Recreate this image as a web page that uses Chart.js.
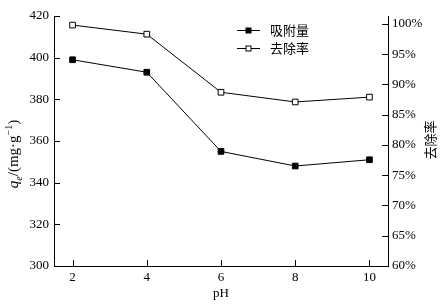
<!DOCTYPE html>
<html>
<head>
<meta charset="utf-8">
<script src="https://cdn.jsdelivr.net/npm/chart.js@4/dist/chart.umd.min.js"></script>
<style>
  html, body { margin: 0; padding: 0; background: #fff; }
</style>
</head>
<body>
<canvas id="chartContainer" width="444" height="308"></canvas>
<script>
var phValues = [2, 4, 6, 8, 10];
var adsorption = [399, 393, 355, 348, 351];
var removal = [99.8, 98.3, 88.7, 87.1, 87.9];
var leftTicks = [300, 320, 340, 360, 380, 400, 420];
var rightTicks = [60, 65, 70, 75, 80, 85, 90, 95, 100];
var seriesNames = ['吸附量', '去除率'];
var xTitle = 'pH';
var rightTitle = '去除率';

var serif = "'Liberation Serif', 'Times New Roman', serif";
var cjk = "'Noto Sans CJK SC', sans-serif";

function setTicks(list) {
  return function(scale) {
    scale.ticks = list.map(function(v) { return { value: v }; });
  };
}

// ticks point into the plot, so draw them by hand
var innerTicks = {
  id: 'innerTicks',
  afterDraw: function(chart) {
    var ctx = chart.ctx, a = chart.chartArea, len = 6;
    ctx.save();
    ctx.strokeStyle = '#000';
    ctx.lineWidth = 1;
    ctx.beginPath();
    chart.scales.x.ticks.forEach(function(t) {
      var px = Math.round(chart.scales.x.getPixelForValue(t.value)) + 0.5;
      ctx.moveTo(px, a.bottom); ctx.lineTo(px, a.bottom - len);
    });
    chart.scales.y.ticks.forEach(function(t) {
      var py = Math.round(chart.scales.y.getPixelForValue(t.value)) + 0.5;
      ctx.moveTo(a.left, py); ctx.lineTo(a.left + len, py);
    });
    chart.scales.y2.ticks.forEach(function(t) {
      var py = Math.round(chart.scales.y2.getPixelForValue(t.value)) + 0.5;
      ctx.moveTo(a.right, py); ctx.lineTo(a.right - len, py);
    });
    ctx.stroke();
    ctx.restore();
  }
};

// axis titles: left one has italic q, subscript e and superscript -1
var axisTitles = {
  id: 'axisTitles',
  afterDraw: function(chart) {
    var ctx = chart.ctx;
    var parts = [
      { t: 'q', f: 'italic 15px ' + serif, dy: 0 },
      { t: 'e', f: 'italic 10px ' + serif, dy: 4 },
      { t: '/(mg·g', f: '15px ' + serif, dy: 0 },
      { t: '−1', f: '10px ' + serif, dy: -6 },
      { t: ')', f: '15px ' + serif, dy: 0 }
    ];
    ctx.save();
    ctx.translate(18, 154);
    ctx.rotate(-Math.PI / 2);
    ctx.fillStyle = '#000';
    ctx.textBaseline = 'alphabetic';
    var total = 0;
    parts.forEach(function(p) { ctx.font = p.f; p.w = ctx.measureText(p.t).width; total += p.w; });
    var x = -total / 2;
    parts.forEach(function(p) {
      ctx.font = p.f;
      ctx.fillText(p.t, x, p.dy);
      x += p.w;
    });
    ctx.restore();

    ctx.save();
    ctx.translate(430, 140);
    ctx.rotate(-Math.PI / 2);
    ctx.fillStyle = '#000';
    ctx.font = '13px ' + cjk;
    ctx.textAlign = 'center';
    ctx.textBaseline = 'middle';
    ctx.fillText(rightTitle, 0, 0);
    ctx.restore();
  }
};

var lineLegend = {
  id: 'lineLegend',
  afterDraw: function(chart) {
    var ctx = chart.ctx;
    ctx.save();
    chart.data.datasets.forEach(function(ds, i) {
      var y = 30 + i * 18 + 0.5;
      ctx.strokeStyle = '#000';
      ctx.lineWidth = 1;
      ctx.beginPath();
      ctx.moveTo(237, y); ctx.lineTo(260, y);
      ctx.stroke();
      ctx.fillStyle = ds.pointBackgroundColor;
      ctx.fillRect(246, y - 2.5, 5, 5);
      ctx.strokeRect(246, y - 2.5, 5, 5);
      ctx.fillStyle = '#000';
      ctx.font = '13px ' + cjk;
      ctx.textBaseline = 'middle';
      ctx.fillText(ds.label, 270, y);
    });
    ctx.restore();
  }
};

const ctx = document.getElementById('chartContainer');

var chart = new Chart(ctx, {
  type: 'line',
  data: {
    datasets: [{
      label: seriesNames[0],
      data: phValues.map(function(x, i) { return { x: x, y: adsorption[i] }; }),
      yAxisID: 'y',
      borderColor: '#000',
      borderWidth: 1,
      pointStyle: 'rect',
      pointRadius: 4,
      pointBackgroundColor: '#000',
      pointBorderColor: '#000',
      pointBorderWidth: 1,
      tension: 0
    }, {
      label: seriesNames[1],
      data: phValues.map(function(x, i) { return { x: x, y: removal[i] }; }),
      yAxisID: 'y2',
      borderColor: '#000',
      borderWidth: 1,
      pointStyle: 'rect',
      pointRadius: 4,
      pointBackgroundColor: '#fff',
      pointBorderColor: '#000',
      pointBorderWidth: 1,
      tension: 0
    }]
  },
  options: {
    responsive: false,
    animation: false,
    layout: { padding: { top: 16, left: 0, right: 0, bottom: 0 } },
    plugins: {
      legend: { display: false },
      tooltip: { enabled: false }
    },
    scales: {
      x: {
        type: 'linear',
        min: 1.5,
        max: 10.5,
        afterBuildTicks: setTicks(phValues),
        afterFit: function(s) { s.height = 42; },
        grid: { display: false, drawTicks: false },
        border: { display: true, color: '#000', width: 1 },
        ticks: { color: '#000', padding: 4, font: { family: serif, size: 13 } },
        title: { display: true, text: xTitle, color: '#000', padding: { top: 0, bottom: 7 }, font: { family: serif, size: 13 } }
      },
      y: {
        position: 'left',
        min: 300,
        max: 420,
        afterBuildTicks: setTicks(leftTicks),
        afterFit: function(s) { s.width = 54; },
        grid: { display: false, drawTicks: false },
        border: { display: true, color: '#000', width: 1 },
        ticks: { color: '#000', padding: 5, font: { family: serif, size: 13 } }
      },
      y2: {
        position: 'right',
        min: 60,
        max: 101.3,
        afterBuildTicks: setTicks(rightTicks),
        afterFit: function(s) { s.width = 56; },
        grid: { display: false, drawTicks: false },
        border: { display: true, color: '#000', width: 1 },
        ticks: {
          color: '#000', padding: 4, font: { family: serif, size: 13 },
          callback: function(v) { return v + '%'; }
        }
      }
    }
  },
  plugins: [innerTicks, axisTitles, lineLegend]
});
</script>
</body>
</html>
